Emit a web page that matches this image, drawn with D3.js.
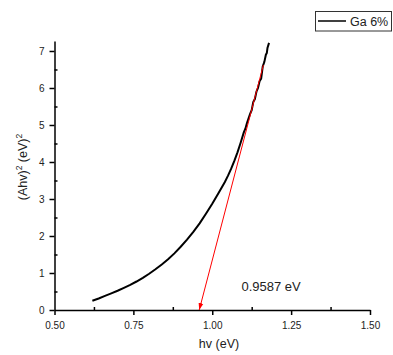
<!DOCTYPE html>
<html>
<head>
<meta charset="utf-8">
<script src="https://cdn.jsdelivr.net/npm/d3@7"></script>
<style>
  body { margin: 0; background: #fff; }
  svg { display: block; font-family: "Liberation Sans", Arial, sans-serif; }
</style>
</head>
<body>
<div id="chart"></div>
<script>
// curve: photon energy (eV) vs (Ahv)^2
const hv = [0.62, 0.64, 0.66, 0.68, 0.70, 0.72, 0.74, 0.76, 0.78, 0.80,
  0.82, 0.84, 0.86, 0.88, 0.90, 0.92, 0.94, 0.96, 0.98, 1.00,
  1.02, 1.04, 1.05, 1.06, 1.07, 1.08, 1.09, 1.10, 1.105, 1.11,
  1.12, 1.125, 1.13, 1.135, 1.14, 1.145, 1.15, 1.155, 1.158, 1.16,
  1.165, 1.17, 1.173, 1.175, 1.18];
const ahv2 = [0.25, 0.31, 0.38, 0.45, 0.52, 0.60, 0.68, 0.77, 0.87, 0.98,
  1.10, 1.23, 1.37, 1.53, 1.71, 1.90, 2.11, 2.34, 2.60, 2.87,
  3.16, 3.46, 3.63, 3.82, 4.03, 4.26, 4.52, 4.80, 4.90, 5.05,
  5.30, 5.40, 5.62, 5.70, 5.90, 6.00, 6.18, 6.25, 6.45, 6.58,
  6.70, 6.90, 6.95, 7.08, 7.22];

// tangent fit: from top point down to the intercept
const fitX = [1.162, 0.9587];
const fitY = [6.62, 0];
const gapLabel = "0.9587 eV";
const seriesName = "Ga 6%";

const xTicks = [0.50, 0.75, 1.00, 1.25, 1.50];
const xMinor = [0.625, 0.875, 1.125, 1.375];
const yTicks = [0, 1, 2, 3, 4, 5, 6, 7];
const yMinor = [0.5, 1.5, 2.5, 3.5, 4.5, 5.5, 6.5];

const width = 393, height = 355;
const plot = { left: 54.5, right: 370, top: 41, bottom: 310 };

const svg = d3.select("#chart").append("svg")
  .attr("width", width)
  .attr("height", height);

const x = d3.scaleLinear().domain([0.5, 1.5]).range([plot.left, plot.right]);
const y = d3.scaleLinear().domain([0, 7.27]).range([plot.bottom, plot.top]);

// arrow head for the red line
svg.append("defs").append("marker")
  .attr("id", "arrow")
  .attr("viewBox", "0 0 10 10")
  .attr("refX", 10).attr("refY", 5)
  .attr("markerWidth", 7).attr("markerHeight", 7)
  .attr("markerUnits", "userSpaceOnUse")
  .attr("orient", "auto")
  .append("path")
  .attr("d", "M0,1.5 L10,5 L0,8.5 Z")
  .attr("fill", "red");

// minor ticks point inward
svg.append("g")
  .attr("transform", `translate(0,${plot.bottom})`)
  .call(d3.axisBottom(x).tickValues(xMinor).tickSize(-3).tickFormat(""))
  .call(s => s.select(".domain").remove());
svg.append("g")
  .attr("transform", `translate(${plot.left},0)`)
  .call(d3.axisLeft(y).tickValues(yMinor).tickSize(-3).tickFormat(""))
  .call(s => s.select(".domain").remove());

const xAxis = svg.append("g")
  .attr("transform", `translate(0,${plot.bottom})`)
  .call(d3.axisBottom(x).tickValues(xTicks).tickSize(5).tickSizeOuter(0)
    .tickPadding(7).tickFormat(d3.format(".2f")));
const yAxis = svg.append("g")
  .attr("transform", `translate(${plot.left},0)`)
  .call(d3.axisLeft(y).tickValues(yTicks).tickSize(5).tickSizeOuter(0)
    .tickPadding(5).tickFormat(d3.format("d")));

[xAxis, yAxis].forEach(a => {
  a.selectAll("text").attr("font-size", 10).attr("fill", "#222")
    .attr("font-family", "Liberation Sans, Arial, sans-serif");
  a.select(".domain").attr("stroke", "#000").attr("stroke-width", 1.5);
});
svg.selectAll(".tick line").attr("stroke", "#000").attr("stroke-width", 1.5);

// data curve
const pts = hv.map((v, i) => [v, ahv2[i]]);
svg.append("path")
  .datum(pts)
  .attr("fill", "none")
  .attr("stroke", "#000")
  .attr("stroke-width", 2)
  .attr("d", d3.line().x(d => x(d[0])).y(d => y(d[1])));

// red fit line with arrow
svg.append("line")
  .attr("x1", x(fitX[0])).attr("y1", y(fitY[0]))
  .attr("x2", x(fitX[1])).attr("y2", y(fitY[1]))
  .attr("stroke", "red")
  .attr("stroke-width", 1)
  .attr("marker-end", "url(#arrow)");

svg.append("text")
  .attr("x", 241.5).attr("y", 291)
  .attr("font-size", 13)
  .attr("fill", "#222")
  .text(gapLabel);

// axis titles
svg.append("text")
  .attr("x", 219).attr("y", 348)
  .attr("text-anchor", "middle")
  .attr("font-size", 12.5)
  .attr("fill", "#222")
  .text("hv (eV)");

const yt = svg.append("text")
  .attr("transform", "translate(27,167) rotate(-90)")
  .attr("text-anchor", "middle")
  .attr("font-size", 12.5)
  .attr("fill", "#222");
yt.append("tspan").text("(Ahv)");
yt.append("tspan").attr("font-size", 8.5).attr("dy", -5).text("2");
yt.append("tspan").attr("dy", 5).text(" (eV)");
yt.append("tspan").attr("font-size", 8.5).attr("dy", -5).text("2");

// legend
const lg = svg.append("g");
lg.append("rect")
  .attr("x", 315.5).attr("y", 11.5)
  .attr("width", 76).attr("height", 19.5)
  .attr("fill", "#fff").attr("stroke", "#333").attr("stroke-width", 1);
lg.append("line")
  .attr("x1", 318).attr("x2", 346)
  .attr("y1", 21).attr("y2", 21)
  .attr("stroke", "#000").attr("stroke-width", 1.5);
lg.append("text")
  .attr("x", 350).attr("y", 26)
  .attr("font-size", 12.5)
  .attr("fill", "#222")
  .text(seriesName);
</script>
</body>
</html>
